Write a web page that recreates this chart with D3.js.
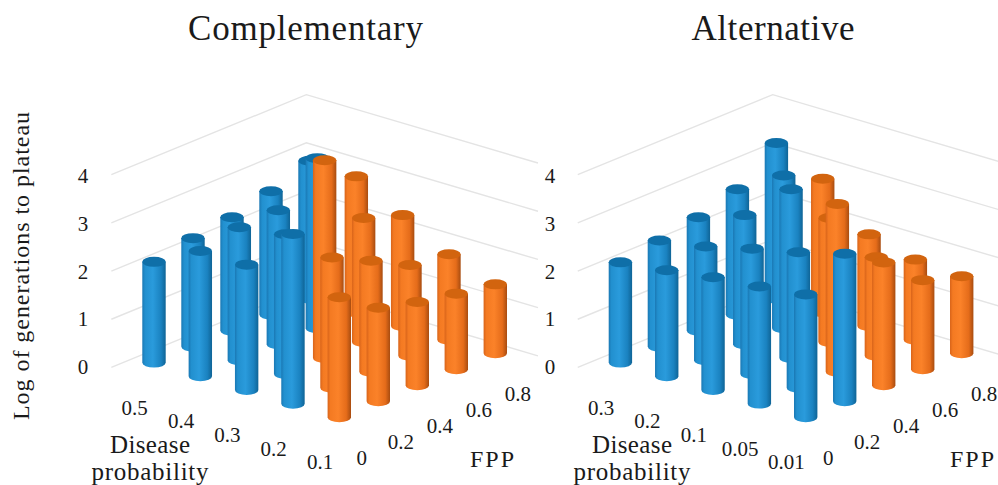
<!DOCTYPE html>
<html>
<head>
<meta charset="utf-8">
<script src="https://cdn.jsdelivr.net/npm/d3@7"></script>
<style>
html, body { margin: 0; padding: 0; background: #fff; }
svg text { font-family: "Liberation Serif", serif; fill: #1a1a1a; }
</style>
</head>
<body>
<svg width="998" height="485"></svg>
<script>
// rows go from the front of the chart (smallest disease prob.) to the back
const fppLabels = ["0", "0.2", "0.4", "0.6", "0.8"];
const compDisease = ["0.1", "0.2", "0.3", "0.4", "0.5"];
const altDisease = ["0.01", "0.05", "0.1", "0.2", "0.3"];
const valueTicks = [0, 1, 2, 3, 4];

const compValues = [
    [2.49, 1.94, 1.73, 1.57, 1.43],
    [3.52, 2.70, 2.30, 1.88, 1.77],
    [2.60, 2.90, 4.10, 2.57, 2.30],
    [2.60, 2.76, 2.78, 3.53, 2.82],
    [2.09, 2.25, 2.35, 2.56, 2.86]
];
const compSeries = [
    ["o", "o", "o", "o", "o"],
    ["b", "o", "o", "o", "o"],
    ["b", "b", "o", "o", "o"],
    ["b", "b", "b", "b", "o"],
    ["b", "b", "b", "b", "b"]
];
const altValues = [
    [2.55, 3.06, 2.55, 1.85, 1.60],
    [2.43, 2.81, 3.48, 2.04, 1.66],
    [2.34, 2.60, 3.50, 2.57, 1.90],
    [2.20, 2.36, 2.68, 3.17, 2.77],
    [2.08, 2.20, 2.35, 2.60, 3.23]
];
const altSeries = [
    ["b", "b", "o", "o", "o"],
    ["b", "b", "o", "o", "o"],
    ["b", "b", "b", "o", "o"],
    ["b", "b", "b", "b", "o"],
    ["b", "b", "b", "b", "b"]
];

const svg = d3.select("svg");
const rx = 11.7, ry = 5;

// shading for the cylinders
const defs = svg.append("defs");
function sideGradient(id, stops) {
    const g = defs.append("linearGradient").attr("id", id);
    stops.forEach(s => g.append("stop").attr("offset", s[0]).attr("stop-color", s[1]));
}
sideGradient("side-b", [[0, "#1a78b4"], [0.12, "#2290cf"], [0.45, "#2a9bdc"], [0.8, "#1a82c0"], [1, "#0f6496"]]);
sideGradient("side-o", [[0, "#d8641a"], [0.12, "#f47a22"], [0.45, "#fb8229"], [0.8, "#e56c1a"], [1, "#a84c10"]]);
const topColor = d3.scaleOrdinal().domain(["b", "o"]).range(["#0f6fa8", "#d2640f"]);

// disease index and FPP index both move a point across the floor
const xDisease = d3.scaleLinear().domain([0, 4]).range([0, -185.3]);
const yDisease = d3.scaleLinear().domain([0, 4]).range([0, -54.7]);
const xFpp = d3.scaleLinear().domain([0, 4]).range([0, 156]);
const yFpp = d3.scaleLinear().domain([0, 4]).range([0, -64]);
const height = d3.scaleLinear().domain([0, 1]).range([0, 48.2]);

function drawPanel(opts) {
    const g = svg.append("g");
    const fx = (i, j) => opts.frontX + xDisease(i) + xFpp(j);
    const fy = (i, j) => 417.3 + yDisease(i) + yFpp(j);

    // walls, the floor corner sits a little below the bars
    const cornerX = fx(4.5, 4.5), cornerY = fy(4.5, 4.5) + 3.7;
    [0, 1, 2, 3, 4].forEach(v => {
        const cy = cornerY - height(v);
        g.append("path")
            .attr("d", d3.line()([
                [cornerX + xFpp(-5), cy + yFpp(-5)],
                [cornerX, cy],
                [cornerX + xDisease(-5), cy + yDisease(-5)]
            ]))
            .attr("fill", "none")
            .attr("stroke", "#e4e4e4")
            .attr("stroke-width", 1.4);
    });

    // cells back to front
    const cells = d3.cross(d3.range(5), d3.range(5), (i, j) => ({
        i, j,
        x: fx(i, j), y: fy(i, j),
        h: height(opts.values[i][j]),
        s: opts.series[i][j]
    })).sort((a, b) => d3.ascending(a.y, b.y));

    const bars = g.selectAll(".bar").data(cells).enter().append("g").attr("class", "bar");
    bars.append("path")
        .attr("fill", d => `url(#side-${d.s})`)
        .attr("d", d => `M${d.x - rx},${d.y - d.h}L${d.x - rx},${d.y}` +
            `A${rx},${ry} 0 0 0 ${d.x + rx},${d.y}L${d.x + rx},${d.y - d.h}Z`);
    bars.append("ellipse")
        .attr("cx", d => d.x)
        .attr("cy", d => d.y - d.h)
        .attr("rx", rx)
        .attr("ry", ry)
        .attr("fill", d => topColor(d.s));

    // tick labels
    const yTick = d3.scaleLinear().domain([0, 4]).range([374, 183]);
    g.selectAll(".val").data(valueTicks).enter().append("text")
        .attr("class", "val")
        .attr("x", opts.tickX)
        .attr("y", d => yTick(d))
        .attr("text-anchor", "middle")
        .attr("font-size", 21)
        .text(d => d);
    g.selectAll(".dis").data(opts.disease).enter().append("text")
        .attr("class", "dis")
        .attr("x", (d, i) => fx(i, 0) - 19.3)
        .attr("y", (d, i) => fy(i, 0) + 52)
        .attr("text-anchor", "middle")
        .attr("font-size", 21)
        .text(d => d);
    g.selectAll(".fpp").data(fppLabels).enter().append("text")
        .attr("class", "fpp")
        .attr("x", (d, j) => fx(0, j) + 22.5)
        .attr("y", (d, j) => fy(0, j) + 48)
        .attr("text-anchor", "middle")
        .attr("font-size", 21)
        .text(d => d);

    // titles
    g.append("text")
        .attr("x", opts.titleX).attr("y", 40)
        .attr("text-anchor", "middle")
        .attr("font-size", 35)
        .attr("textLength", opts.titleLen)
        .attr("lengthAdjust", "spacing")
        .text(opts.title);
    g.append("text")
        .attr("x", opts.diseaseX).attr("y", 453)
        .attr("text-anchor", "middle").attr("font-size", 25)
        .attr("textLength", 80).attr("lengthAdjust", "spacing")
        .text("Disease");
    g.append("text")
        .attr("x", opts.diseaseX).attr("y", 480)
        .attr("text-anchor", "middle").attr("font-size", 25)
        .attr("textLength", 117).attr("lengthAdjust", "spacing")
        .text("probability");
    g.append("text")
        .attr("x", opts.fppX).attr("y", 467)
        .attr("text-anchor", "middle").attr("font-size", 24)
        .attr("textLength", 44).attr("lengthAdjust", "spacing")
        .text("FPP");
}

drawPanel({
    title: "Complementary", titleX: 305.5, titleLen: 235,
    frontX: 339.3, tickX: 83, values: compValues, series: compSeries, disease: compDisease,
    diseaseX: 150, fppX: 492
});
drawPanel({
    title: "Alternative", titleX: 773, titleLen: 163,
    frontX: 805.7, tickX: 550, values: altValues, series: altSeries, disease: altDisease,
    diseaseX: 632, fppX: 972
});

svg.append("text")
    .attr("transform", "translate(29,266) rotate(-90)")
    .attr("text-anchor", "middle")
    .attr("font-size", 24)
    .attr("textLength", 308)
    .attr("lengthAdjust", "spacing")
    .text("Log of generations to plateau");
</script>
</body>
</html>
